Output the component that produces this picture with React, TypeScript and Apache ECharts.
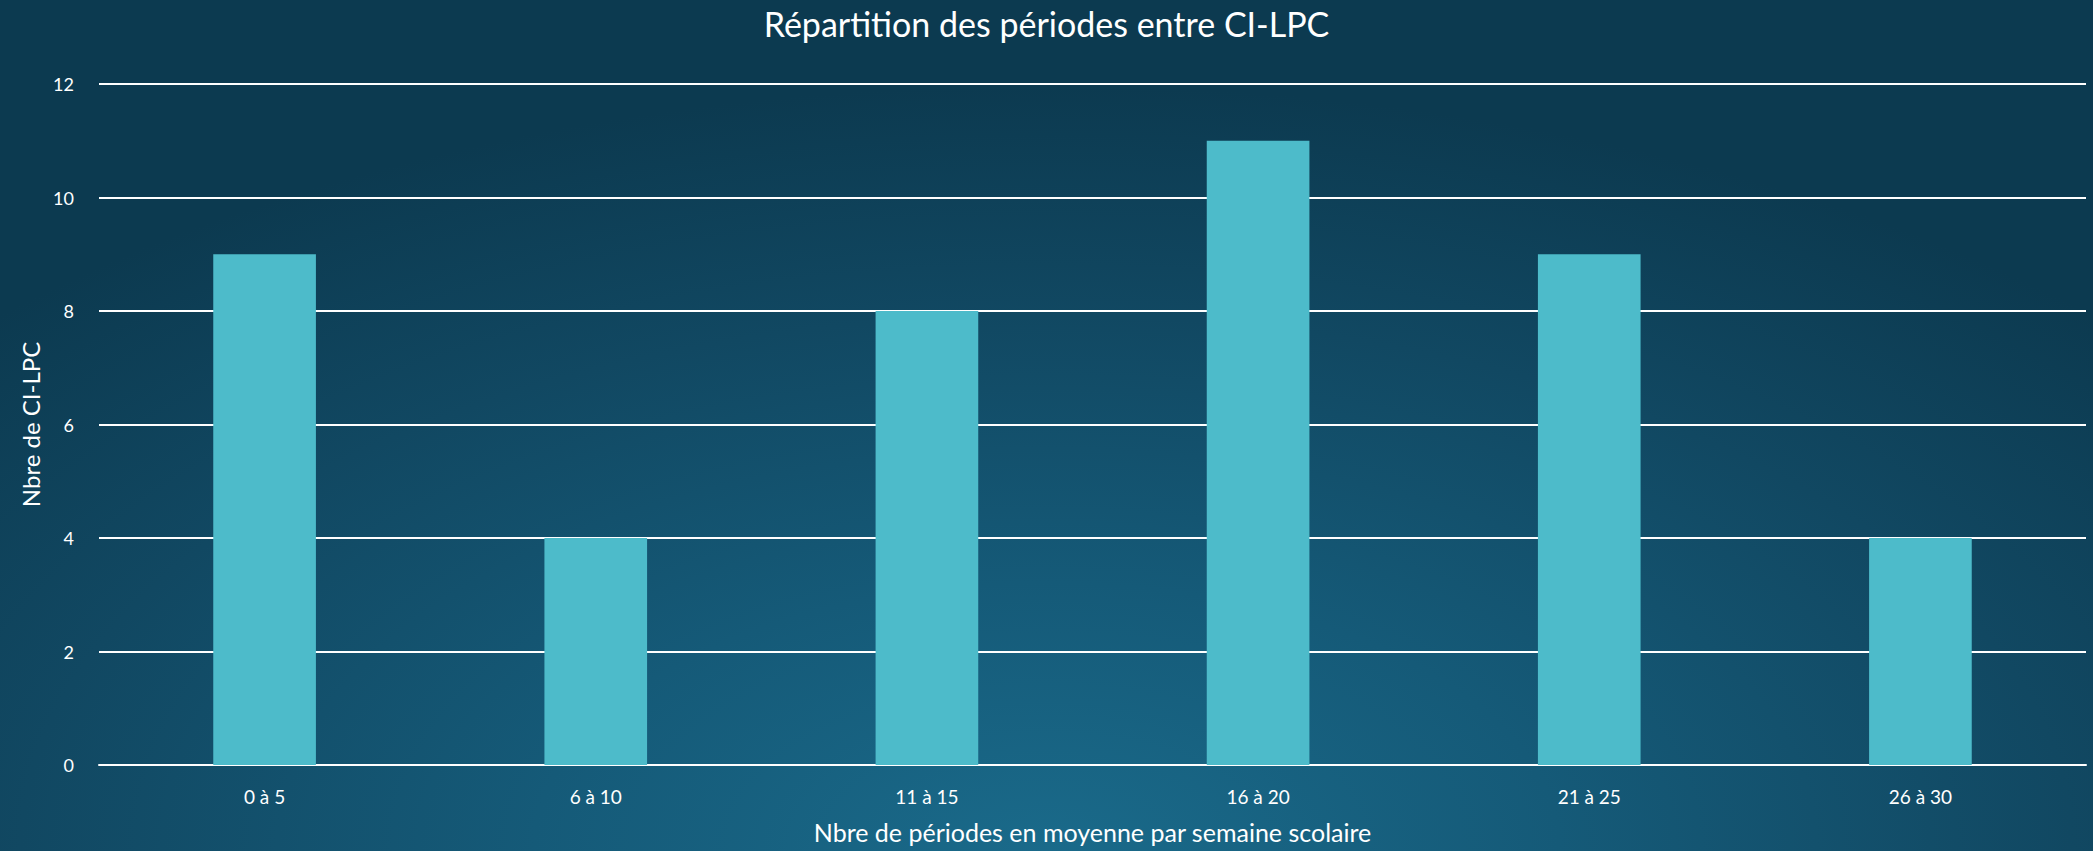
import React, { useEffect, useRef } from "react";
import * as echarts from "echarts";

const categories = ["0 à 5", "6 à 10", "11 à 15", "16 à 20", "21 à 25", "26 à 30"];
const values = [9, 4, 8, 11, 9, 4];
const titleText = "Répartition des périodes entre CI-LPC";
const xName = "Nbre de périodes en moyenne par semaine scolaire";
const yName = "Nbre de CI-LPC";

const FONT = "Lato, 'Open Sans', sans-serif";

export default function App() {
  const ref = useRef<HTMLDivElement>(null);
  useEffect(() => {
    document.body.style.margin = "0";
    const chart = echarts.init(ref.current!, null, { renderer: "svg" });
    chart.setOption({
      animation: false,
      backgroundColor: "transparent",
      textStyle: { fontFamily: FONT },
      title: {
        text: titleText,
        left: "center",
        top: 1,
        textStyle: { color: "#ffffff", fontSize: 34, fontWeight: "normal", fontFamily: FONT },
      },
      grid: { left: 99, right: 7, top: 84, bottom: 86 },
      xAxis: {
        type: "category",
        data: categories,
        axisLine: { show: true, lineStyle: { color: "#ffffff", width: 2 } },
        axisTick: { show: false },
        axisLabel: { color: "#ffffff", fontSize: 19, margin: 22, fontFamily: FONT },
        name: xName,
        nameLocation: "middle",
        nameGap: 54,
        nameTextStyle: { color: "#ffffff", fontSize: 25, fontFamily: FONT },
      },
      yAxis: {
        type: "value",
        min: 0,
        max: 12,
        interval: 2,
        axisLine: { show: false },
        axisTick: { show: false },
        splitLine: { show: true, lineStyle: { color: "#ffffff", width: 2 } },
        axisLabel: { color: "#ffffff", fontSize: 18, margin: 25, fontFamily: FONT },
        name: yName,
        nameLocation: "middle",
        nameGap: 57,
        nameTextStyle: { color: "#ffffff", fontSize: 24, fontFamily: FONT },
      },
      series: [
        {
          type: "bar",
          data: values,
          barWidth: "31%",
          itemStyle: { color: "#4dbbca" },
        },
      ],
    });
    return () => chart.dispose();
  }, []);
  return (
    <div
      ref={ref}
      style={{
        width: 2093,
        height: 851,
        background:
          "radial-gradient(ellipse 70% 90% at 50% 100%, #1a6a8a 0%, #155a78 35%, #114862 70%, #0c3a50 100%)",
      }}
    />
  );
}
